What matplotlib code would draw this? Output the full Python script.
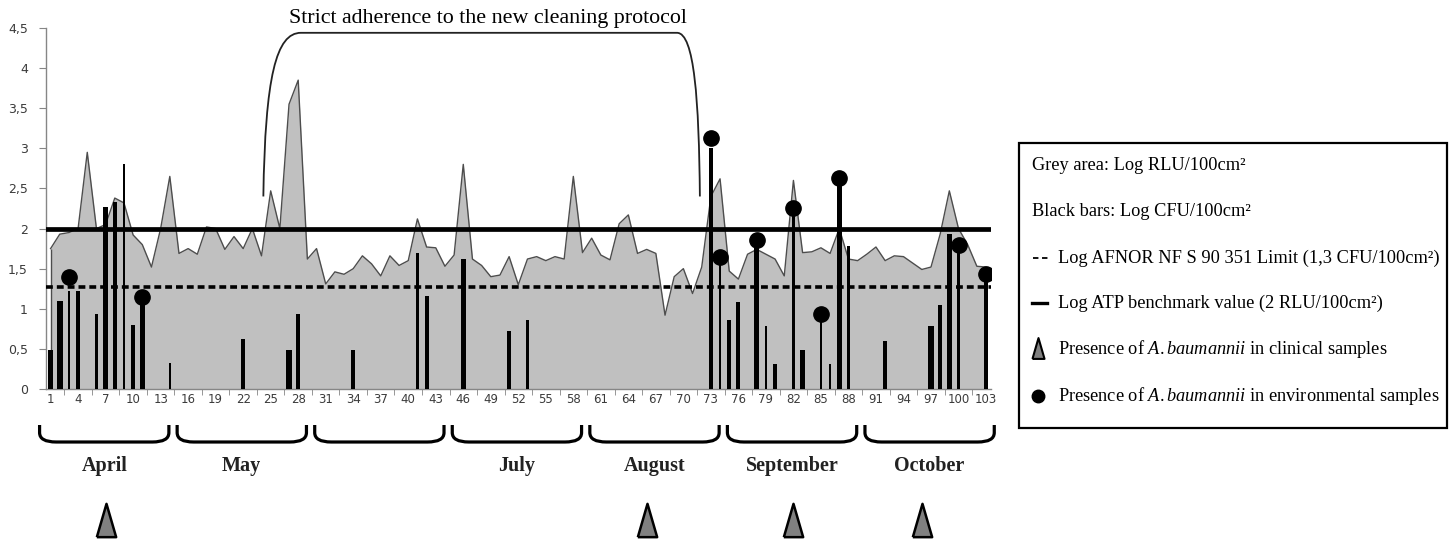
import numpy as np
import matplotlib
matplotlib.use("Agg")
import matplotlib.pyplot as plt
import matplotlib.transforms as mtransforms
from matplotlib.path import Path
from matplotlib.patches import PathPatch, Rectangle
from matplotlib.lines import Line2D

plt.rcParams["mathtext.fontset"] = "custom"
plt.rcParams["mathtext.rm"] = "Liberation Serif"
plt.rcParams["mathtext.it"] = "Liberation Serif:italic"

# ==========================================
# Data
# ==========================================

days = np.arange(1, 104)

rlu_log = [
    1.75, 1.93, 1.95, 2.00, 2.95, 2.00, 2.05, 2.38, 2.32, 1.92,
    1.80, 1.52, 2.00, 2.65, 1.69, 1.75, 1.68, 2.02, 2.00, 1.74,
    1.90, 1.75, 2.00, 1.66, 2.47, 2.00, 3.55, 3.85, 1.62, 1.75,
    1.31, 1.46, 1.43, 1.50, 1.66, 1.56, 1.41, 1.66, 1.54, 1.60,
    2.12, 1.77, 1.76, 1.53, 1.67, 2.80, 1.62, 1.54, 1.40, 1.42,
    1.65, 1.30, 1.62, 1.65, 1.60, 1.65, 1.62, 2.65, 1.70, 1.88,
    1.67, 1.61, 2.06, 2.17, 1.69, 1.74, 1.69, 0.92, 1.40, 1.50,
    1.19, 1.52, 2.40, 2.62, 1.47, 1.37, 1.68, 1.74, 1.68, 1.62,
    1.41, 2.60, 1.70, 1.71, 1.76, 1.69, 2.00, 1.62, 1.60, 1.68,
    1.77, 1.60, 1.66, 1.65, 1.57, 1.49, 1.52, 1.93, 2.47, 2.00,
    1.80, 1.53, 1.52,
]

cfu_days = [1, 2, 3, 4, 6, 7, 8, 9, 10, 11, 14, 22, 27, 28, 34, 41, 42, 46,
            51, 53, 73, 74, 75, 76, 78, 79, 80, 82, 83, 85, 86, 87, 88, 92,
            97, 98, 99, 100, 103]
cfu_log = [0.49, 1.10, 1.22, 1.22, 0.94, 2.27, 2.33, 2.80, 0.80, 1.15, 0.33,
           0.62, 0.49, 0.94, 0.49, 1.69, 1.16, 1.62, 0.72, 0.86, 3.00, 1.65,
           0.86, 1.09, 1.86, 0.79, 0.31, 2.26, 0.49, 0.94, 0.31, 2.63, 1.78,
           0.60, 0.79, 1.05, 1.93, 1.79, 1.43]

env_days = [3, 11, 73, 74, 78, 82, 85, 87, 100, 103]
env_log = [1.40, 1.15, 3.13, 1.64, 1.86, 2.26, 0.94, 2.63, 1.80, 1.43]

clinical_days = [7, 66, 82, 96]

months = ["April", "May", "", "July", "August", "September", "October"]

afnor_limit = 1.27
atp_benchmark = 2.0

x_ticks = list(range(1, 104, 3))
y_ticks = [0, 0.5, 1, 1.5, 2, 2.5, 3, 3.5, 4, 4.5]
y_labels = ["0", "0,5", "1", "1,5", "2", "2,5", "3", "3,5", "4", "4,5"]

# bar thickness (style only)
thick_bars = [1, 2, 7, 11, 27, 46, 78, 83, 87, 97, 99]
thin_bars = [3, 9, 14, 41, 74, 79, 85, 86]

# ==========================================
# Figure
# ==========================================

W, H = 1450, 540
fig = plt.figure(figsize=(14.5, 5.4), dpi=100)
ax = fig.add_axes([46 / W, 1 - 389 / H, (990.6 - 46) / W, 361 / H])


def fx(px):
    return px / W


def fy(py):
    return 1 - py / H


# grey area
ax.fill_between(days, 0, rlu_log, color="#c0c0c0", lw=0, zorder=1)
ax.plot(days, rlu_log, color="#4d4d4d", lw=1.0, zorder=2)
ax.vlines(days[0], 0, rlu_log[0], color="#4d4d4d", lw=1.0, zorder=2)

# black bars
widths = []
for d in cfu_days:
    if d in thick_bars:
        widths.append(0.6)
    elif d in thin_bars:
        widths.append(0.26)
    else:
        widths.append(0.42)

ax.bar(cfu_days, cfu_log, width=widths, color="black", zorder=3)

# reference lines
ax.axhline(atp_benchmark, color="black", lw=3.4, zorder=4)
ax.axhline(afnor_limit, color="black", lw=2.6,
           linestyle=(0, (1.9, 1.1)), zorder=4)

# environmental samples
ax.plot(env_days, env_log, "o", color="black", markersize=11, zorder=5)

# axes styling
ax.set_xlim(0.5, 103.5)
ax.set_ylim(0, 4.5)
for side in ["top", "right"]:
    ax.spines[side].set_visible(False)
for side in ["left", "bottom"]:
    ax.spines[side].set_color("#868686")
    ax.spines[side].set_linewidth(1.0)

ax.set_yticks(y_ticks)
ax.set_yticklabels(y_labels, fontsize=9, color="#3b3b3b")
ax.tick_params(axis="y", length=5, color="#868686", pad=8)

ax.set_xticks(x_ticks)
ax.set_xticklabels([str(t) for t in x_ticks], fontsize=8.5, color="#3b3b3b")
ax.tick_params(axis="x", length=0, pad=3)
ax.set_xticks([t - 1.5 for t in x_ticks[1:]], minor=True)
ax.tick_params(axis="x", which="minor", length=4, color="#868686")

# protocol bracket + caption
bracket = Path(
    [(24.2, 2.4), (24.4, 3.9), (25.6, 4.44), (28.3, 4.44),
     (69.3, 4.44), (71.2, 4.44), (71.7, 3.6), (71.8, 2.4)],
    [Path.MOVETO, Path.CURVE4, Path.CURVE4, Path.CURVE4,
     Path.LINETO, Path.CURVE4, Path.CURVE4, Path.CURVE4],
)
ax.add_patch(PathPatch(bracket, facecolor="none", edgecolor="#222222",
                       lw=1.3, clip_on=False, zorder=6))
ax.text(48.7, 4.62, "Strict adherence to the new cleaning protocol",
        ha="center", va="center", fontsize=15.8,
        family="Liberation Serif", clip_on=False)

# month braces, labels and clinical triangles
trans = mtransforms.blended_transform_factory(ax.transData, ax.transAxes)
y_top = (389 - 425) / 361
y_bot = (389 - 442) / 361
y_mid = y_top - 0.45 * (y_top - y_bot)
r = 1.8

for k, name in enumerate(months):
    x0 = 15 * k - 0.2
    x1 = 15 * k + 13.9
    brace = Path(
        [(x0, y_top), (x0, y_mid), (x0, y_bot), (x0 + r, y_bot),
         (x1 - r, y_bot), (x1, y_bot), (x1, y_mid), (x1, y_top)],
        [Path.MOVETO, Path.LINETO, Path.CURVE3, Path.CURVE3,
         Path.LINETO, Path.CURVE3, Path.CURVE3, Path.LINETO],
    )
    ax.add_patch(PathPatch(brace, facecolor="none", edgecolor="black",
                           lw=2.3, transform=trans, clip_on=False))
    if name:
        ax.text((x0 + x1) / 2, (389 - 466) / 361, name, transform=trans,
                ha="center", va="center", fontsize=14.5, fontweight="bold",
                family="Liberation Serif", color="#222222", clip_on=False)

tri = [(-0.58, -1), (0.58, -1), (0, 1), (-0.58, -1)]
ax.plot(clinical_days, [(389 - 520) / 361] * len(clinical_days),
        linestyle="none", marker=tri, markersize=24,
        markerfacecolor="#808080", markeredgecolor="black",
        markeredgewidth=1.8, transform=trans, clip_on=False)

# ==========================================
# Legend box
# ==========================================

fig.patches.append(Rectangle((fx(1019), fy(428)), fx(428), 285 / H,
                             transform=fig.transFigure, fill=False,
                             edgecolor="black", lw=1.6))

serif = dict(family="Liberation Serif", fontsize=13.2, va="center")

fig.text(fx(1032), fy(165), "Grey area: Log RLU/100cm²", **serif)
fig.text(fx(1032), fy(211), "Black bars: Log CFU/100cm²", **serif)
fig.lines.append(Line2D([fx(1033), fx(1049)], [fy(258), fy(258)],
                        transform=fig.transFigure, color="black", lw=1.3,
                        linestyle=(0, (3, 2))))
fig.text(fx(1058), fy(258), "Log AFNOR NF S 90 351 Limit (1,3 CFU/100cm²)",
         **serif)
fig.lines.append(Line2D([fx(1032), fx(1047)], [fy(303), fy(303)],
                        transform=fig.transFigure, color="black", lw=2.4))
fig.text(fx(1058), fy(303), "Log ATP benchmark value (2 RLU/100cm²)", **serif)

fig.lines.append(Line2D([fx(1038)], [fy(348)], transform=fig.transFigure,
                        linestyle="none", marker=tri, markersize=15,
                        markerfacecolor="#808080", markeredgecolor="black",
                        markeredgewidth=1.5))
fig.text(fx(1058), fy(349),
         r"Presence of $\mathit{A.baumannii}$ in clinical samples", **serif)

fig.lines.append(Line2D([fx(1038)], [fy(396)], transform=fig.transFigure,
                        linestyle="none", marker="o", markersize=9,
                        color="black"))
fig.text(fx(1058), fy(396),
         r"Presence of $\mathit{A.baumannii}$ in environmental samples",
         **serif)

fig.savefig("out.png", dpi=100)
